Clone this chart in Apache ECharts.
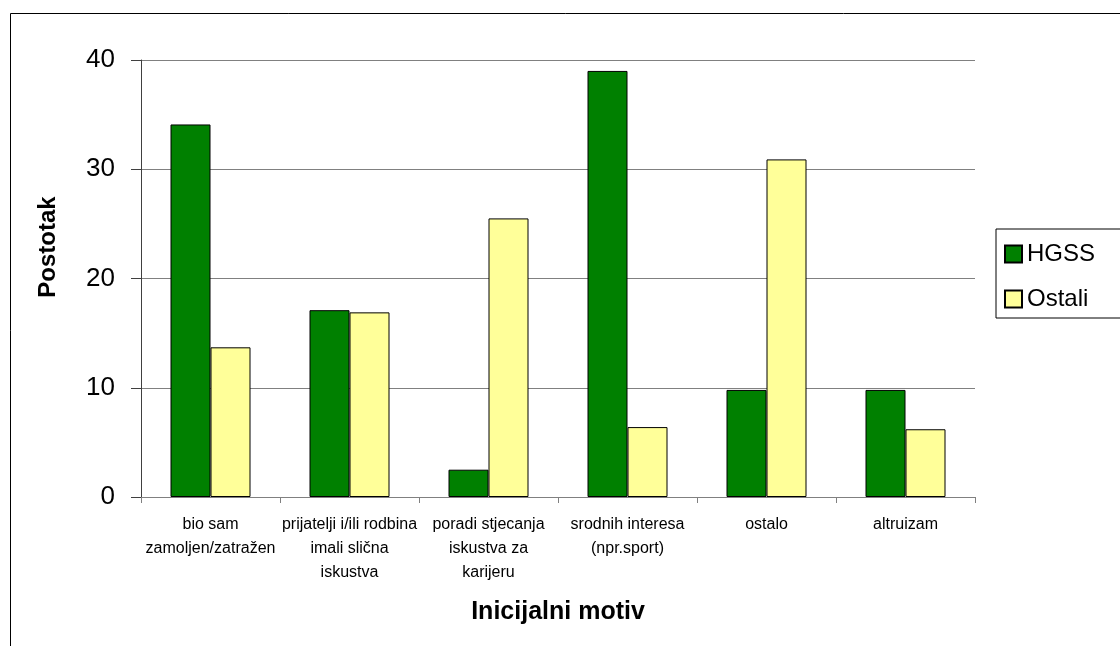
<html>
<head>
    <meta charset="UTF-8">
    <title>Inicijalni motiv</title>
    <script src="https://cdn.jsdelivr.net/npm/echarts@6/dist/echarts.min.js"></script>
</head>
<body style="margin:0">
    <div id="container" style="width:1120px;height:646px;"></div>
</body>
<script>
    var categories = ['bio sam\nzamoljen/zatražen', 'prijatelji i/ili rodbina\nimali slična\niskustva',
        'poradi stjecanja\niskustva za\nkarijeru', 'srodnih interesa\n(npr.sport)', 'ostalo', 'altruizam'];
    var hgss = [34.1, 17.1, 2.5, 39.0, 9.8, 9.8];
    var ostali = [13.7, 16.9, 25.5, 6.4, 30.9, 6.2];
    var yTicks = [0, 10, 20, 30, 40];

    var font = 'Liberation Sans, Arial, sans-serif';
    var mycharts = echarts.init(document.getElementById('container'));
    var option = {
        animation: false,
        backgroundColor: '#fff',
        textStyle: { fontFamily: font },
        grid: { left: 141, right: 145, top: 60, bottom: 149 },
        legend: {
            left: 996, top: 229,
            orient: 'vertical',
            data: ['HGSS', 'Ostali'],
            icon: 'rect',
            itemWidth: 17, itemHeight: 17, itemGap: 21,
            padding: [13, 40, 7, 8],
            borderColor: '#000', borderWidth: 1,
            textStyle: { fontSize: 24, color: '#000', fontFamily: font }
        },
        xAxis: {
            type: 'category',
            data: categories,
            axisLine: { lineStyle: { color: '#808080' } },
            axisTick: { show: true, length: 6, lineStyle: { color: '#808080' } },
            axisLabel: { color: '#000', fontSize: 16, lineHeight: 24, margin: 16, interval: 0 }
        },
        yAxis: {
            type: 'value',
            min: yTicks[0], max: yTicks[yTicks.length - 1], interval: 10,
            axisLine: { show: true, lineStyle: { color: '#404040' } },
            axisTick: { show: true, length: 10, lineStyle: { color: '#404040' } },
            axisLabel: { color: '#000', fontSize: 26, margin: 26 },
            splitLine: { lineStyle: { color: '#808080' } }
        },
        graphic: [
            { type: 'rect', shape: { x: 10.5, y: 13.5, width: 1200, height: 700 },
              style: { fill: 'none', stroke: '#000', lineWidth: 1 }, z: -1 },
            { type: 'text', x: 48, y: 247, rotation: Math.PI / 2,
              style: { text: 'Postotak', font: 'bold 24px ' + font, fill: '#000', align: 'center', verticalAlign: 'middle' } },
            { type: 'text', x: 558, y: 612,
              style: { text: 'Inicijalni motiv', font: 'bold 25px ' + font, fill: '#000', align: 'center', verticalAlign: 'middle' } }
        ],
        series: [
            { name: 'HGSS', type: 'bar', data: hgss, barWidth: 40, barGap: '0%',
              itemStyle: { color: '#008000', borderColor: '#000', borderWidth: 1 } },
            { name: 'Ostali', type: 'bar', data: ostali, barWidth: 40,
              itemStyle: { color: '#FFFF99', borderColor: '#000', borderWidth: 1 } }
        ]
    };
    mycharts.setOption(option);
</script>
</html>
